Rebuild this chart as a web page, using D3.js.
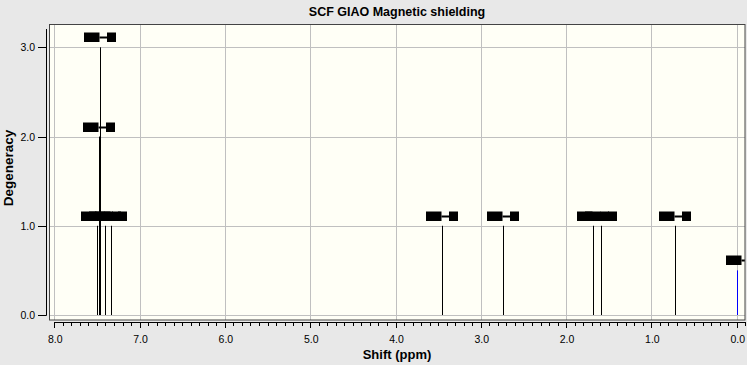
<!DOCTYPE html>
<meta charset="utf-8">
<html>
<head>
<script src="https://d3js.org/d3.v7.min.js"></script>
<style>
  body { margin: 0; background: #e8e8e8; }
  text { font-family: "Liberation Sans", Arial, sans-serif; }
</style>
</head>
<body>
<svg width="747" height="365"></svg>
<script>

// stick spectrum: chemical shift (ppm) and degeneracy of each peak
var shifts     = [7.495, 7.48, 7.47, 7.41, 7.335, 3.45, 2.735, 1.68, 1.59, 0.72];
var degeneracy = [1,     2,    3,    1,    1,     1,    1,     1,    1,    1];

// reference peak (TMS), drawn in blue
var refShift = [0.0];
var refDegeneracy = [0.5];

var xTicks = [8, 7, 6, 5, 4, 3, 2, 1, 0];
var yTicks = [0, 1, 2, 3];

var svg = d3.select("svg"),
    frame = {left: 49.5, top: 24.5, right: 745, bottom: 320};

var x = d3.scaleLinear().domain([8, 0]).range([54.3, 736.7]);
var y = d3.scaleLinear().domain([0, 3]).range([315, 47.3]);

// background
svg.append("rect")
    .attr("width", 747).attr("height", 365)
    .attr("fill", "#e8e8e8");

svg.append("defs").append("clipPath").attr("id", "plotclip")
  .append("rect")
    .attr("x", frame.left).attr("y", frame.top)
    .attr("width", frame.right - frame.left)
    .attr("height", frame.bottom - frame.top);

svg.append("rect")
    .attr("x", frame.left).attr("y", frame.top)
    .attr("width", frame.right - frame.left)
    .attr("height", frame.bottom - frame.top)
    .attr("fill", "#fffff6");

var plot = svg.append("g").attr("clip-path", "url(#plotclip)");

// grid
plot.selectAll(".vgrid")
  .data(xTicks)
  .enter().append("line")
    .attr("x1", function(d) { return Math.round(x(d)) + 0.5; })
    .attr("x2", function(d) { return Math.round(x(d)) + 0.5; })
    .attr("y1", frame.top).attr("y2", frame.bottom)
    .attr("stroke", "#c0c0c0");

plot.selectAll(".hgrid")
  .data(yTicks)
  .enter().append("line")
    .attr("y1", function(d) { return Math.round(y(d)) + 0.5; })
    .attr("y2", function(d) { return Math.round(y(d)) + 0.5; })
    .attr("x1", frame.left).attr("x2", frame.right)
    .attr("stroke", "#c0c0c0");

var peaks = shifts.map(function(s, i) { return {shift: s, deg: degeneracy[i], color: "#000", dx: 0}; });
var refs = refShift.map(function(s, i) { return {shift: s, deg: refDegeneracy[i], color: "#0000ff", dx: 5}; });
var all = peaks.concat(refs);

// sticks
plot.selectAll(".stick")
  .data(all)
  .enter().append("line")
    .attr("x1", function(d) { return Math.round(x(d.shift)) + 0.5; })
    .attr("x2", function(d) { return Math.round(x(d.shift)) + 0.5; })
    .attr("y1", y(0))
    .attr("y2", function(d) { return y(d.deg); })
    .attr("stroke", function(d) { return d.color; })
    .attr("stroke-width", 1);

// labels: drawn as black blocks "##-#"
var lab = plot.selectAll(".lab")
  .data(all)
  .enter().append("g")
    .attr("transform", function(d) {
      return "translate(" + (Math.round(x(d.shift)) + d.dx) + "," + Math.round(y(d.deg)) + ")";
    })
    .attr("fill", "#000");

lab.append("rect").attr("x", -16).attr("y", -14.5).attr("width", 15.5).attr("height", 9.5);
lab.append("rect").attr("x", -0.5).attr("y", -10.5).attr("width", 8).attr("height", 2);
lab.append("rect").attr("x", 7).attr("y", -14.5).attr("width", 9).attr("height", 9.5);

// frame
svg.append("rect")
    .attr("x", frame.left).attr("y", frame.top)
    .attr("width", frame.right - frame.left)
    .attr("height", frame.bottom - frame.top)
    .attr("fill", "none")
    .attr("stroke", "#444");

// x axis with minor ticks every 0.1
var xa = x.copy().domain([8, -0.1]).range([x(8), x(-0.1)]);
var xAxisG = svg.append("g").attr("transform", "translate(0,322)");
xAxisG.append("line")
    .attr("x1", xa(8)).attr("x2", frame.right)
    .attr("y1", 0.5).attr("y2", 0.5)
    .attr("stroke", "#000");
xAxisG.selectAll(".minor")
  .data(d3.range(0, 82).map(function(i) { return 8 - i / 10; }))
  .enter().append("line")
    .attr("x1", function(d) { return Math.round(xa(d)) + 0.5; })
    .attr("x2", function(d) { return Math.round(xa(d)) + 0.5; })
    .attr("y1", 0).attr("y2", function(d, i) { return i % 10 === 0 ? 6 : 4; })
    .attr("stroke", "#000");
xAxisG.selectAll(".xlab")
  .data(xTicks)
  .enter().append("text")
    .attr("x", function(d) { return xa(d) + 1; })
    .attr("y", 21)
    .attr("text-anchor", "middle")
    .attr("font-size", 10.5)
    .text(function(d) { return d.toFixed(1); });

// y axis
var yAxisG = svg.append("g");
yAxisG.append("line")
    .attr("x1", 46.5).attr("x2", 46.5)
    .attr("y1", 29).attr("y2", y(0) + 0.5)
    .attr("stroke", "#000");
yAxisG.selectAll(".ytick")
  .data(yTicks)
  .enter().append("line")
    .attr("x1", 38).attr("x2", 46.5)
    .attr("y1", function(d) { return Math.round(y(d)) + 0.5; })
    .attr("y2", function(d) { return Math.round(y(d)) + 0.5; })
    .attr("stroke", "#000");
yAxisG.selectAll(".ylab")
  .data(yTicks)
  .enter().append("text")
    .attr("x", 35)
    .attr("y", function(d) { return y(d) + 4; })
    .attr("text-anchor", "end")
    .attr("font-size", 10.5)
    .text(function(d) { return d.toFixed(1); });

// titles
svg.append("text")
    .attr("x", 397).attr("y", 16)
    .attr("text-anchor", "middle")
    .attr("font-size", 12.5).attr("font-weight", "bold")
    .text("SCF GIAO Magnetic shielding");

svg.append("text")
    .attr("x", 397).attr("y", 359)
    .attr("text-anchor", "middle")
    .attr("font-size", 13).attr("font-weight", "bold")
    .text("Shift (ppm)");

svg.append("text")
    .attr("transform", "translate(13,168) rotate(-90)")
    .attr("text-anchor", "middle")
    .attr("font-size", 13.5).attr("font-weight", "bold")
    .text("Degeneracy");

</script>
</body>
</html>
